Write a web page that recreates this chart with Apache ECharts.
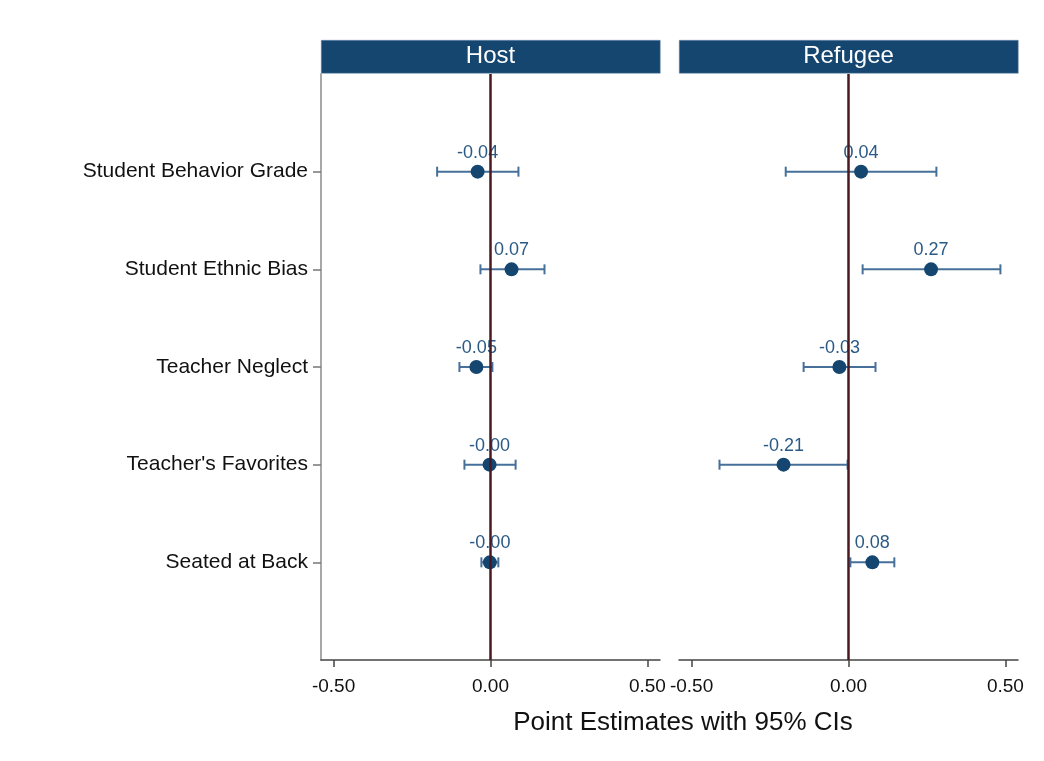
<!DOCTYPE html>
<html><head><meta charset="utf-8">
<script src="https://cdn.jsdelivr.net/npm/echarts@6/dist/echarts.min.js"></script>
<style>html,body{margin:0;background:#fff}#c{width:1044px;height:761px}</style>
</head><body><div id="c"></div><script>
const categories = ['Student Behavior Grade','Student Ethnic Bias','Teacher Neglect',"Teacher's Favorites",'Seated at Back'];
const panels = ['Host','Refugee'];
const hostEst = [-0.041, 0.067, -0.045, -0.003, -0.002];
const hostLo  = [-0.170, -0.032, -0.099, -0.083, -0.029];
const hostHi  = [0.089, 0.172, 0.006, 0.080, 0.025];
const hostLabels = ['-0.04','0.07','-0.05','-0.00','-0.00'];
const refEst = [0.040, 0.263, -0.029, -0.207, 0.076];
const refLo  = [-0.200, 0.045, -0.143, -0.411, 0.006];
const refHi  = [0.280, 0.484, 0.086, -0.003, 0.146];
const refLabels = ['0.04','0.27','-0.03','-0.21','0.08'];
const xTicks = [-0.5, 0, 0.5];
const yPos = [1, 2, 3, 4, 5];

const FONT = 'Liberation Sans, Arial, Helvetica, sans-serif';
const NAVY = '#15466f';
const BAR = '#46709a';

function errRender(params, api){
  const lo = api.coord([api.value(0), api.value(2)]);
  const hi = api.coord([api.value(1), api.value(2)]);
  const h = 5;
  const style = {stroke: BAR, lineWidth: 2};
  return {type:'group', children:[
    {type:'line', shape:{x1:lo[0],y1:lo[1],x2:hi[0],y2:hi[1]}, style},
    {type:'line', shape:{x1:lo[0],y1:lo[1]-h,x2:lo[0],y2:lo[1]+h}, style},
    {type:'line', shape:{x1:hi[0],y1:hi[1]-h,x2:hi[0],y2:hi[1]+h}, style}
  ]};
}

const grids = [
  {left: 321, top: 74, width: 339, height: 586},
  {left: 679, top: 74, width: 339, height: 586}
];

const xAxes = grids.map((g,i)=>({
  type:'value', gridIndex:i, min:-0.54, max:0.54,
  splitLine:{show:false},
  axisLine:{show:true, onZero:false, lineStyle:{color:'#444', width:1.5}},
  axisTick:{show:true, length:7, customValues:xTicks, lineStyle:{color:'#444', width:1.5}},
  axisLabel:{customValues:xTicks, formatter:v=>v.toFixed(2), fontSize:19, color:'#111', fontFamily:FONT, margin:17}
}));

const yAxes = grids.map((g,i)=>({
  type:'value', gridIndex:i, min:0, max:6, inverse:true,
  splitLine:{show:false},
  axisLine:{show:i===0, onZero:false, lineStyle:{color:'#a8a8a8', width:2}},
  axisTick:{show:i===0, length:8, customValues:yPos, lineStyle:{color:'#777', width:1.5}},
  axisLabel:{show:i===0, customValues:yPos, formatter:v=>categories[v-1]||'', fontSize:21, color:'#111', fontFamily:FONT, margin:13}
}));

const sets = [
  {est:hostEst, lo:hostLo, hi:hostHi, lab:hostLabels},
  {est:refEst, lo:refLo, hi:refHi, lab:refLabels}
];

const series = [];
sets.forEach((s,i)=>{
  series.push({
    type:'custom', xAxisIndex:i, yAxisIndex:i, renderItem:errRender, z:2,
    encode:{x:[0,1], y:2},
    data: s.lo.map((l,k)=>[l, s.hi[k], yPos[k]])
  });
  series.push({
    type:'scatter', xAxisIndex:i, yAxisIndex:i, z:3,
    symbol:'circle', symbolSize:14,
    itemStyle:{color:NAVY, opacity:1},
    label:{show:true, position:'top', distance:3, fontSize:18, color:'#2b5a85', fontFamily:FONT,
      formatter:p=>s.lab[p.dataIndex]},
    data: s.est.map((e,k)=>[e, yPos[k]])
  });
  series.push({
    type:'scatter', xAxisIndex:i, yAxisIndex:i, z:10, data:[], silent:true,
    markLine:{silent:true, symbol:['none','none'], label:{show:false},
      lineStyle:{color:'#4a1a20', width:2.5, type:'solid'},
      data:[{xAxis:0}], animation:false}
  });
});

const graphic = [];
grids.forEach((g,i)=>{
  graphic.push({type:'rect', left:g.left, top:40, shape:{width:g.width, height:33},
    style:{fill:NAVY, stroke:'#6d8fb0', lineWidth:0.5}});
  graphic.push({type:'text', x:g.left+g.width/2, y:56.5,
    style:{text:panels[i], fill:'#fff', font:'24px '+FONT, textAlign:'center', textVerticalAlign:'middle'}});
});
graphic.push({type:'text', x:683, y:723,
  style:{text:'Point Estimates with 95% CIs', fill:'#111', font:'26px '+FONT, textAlign:'center', textVerticalAlign:'middle'}});

const chart = echarts.init(document.getElementById('c'));
chart.setOption({
  animation:false,
  backgroundColor:'#fff',
  grid:grids, xAxis:xAxes, yAxis:yAxes, series, graphic
});
</script></body></html>
